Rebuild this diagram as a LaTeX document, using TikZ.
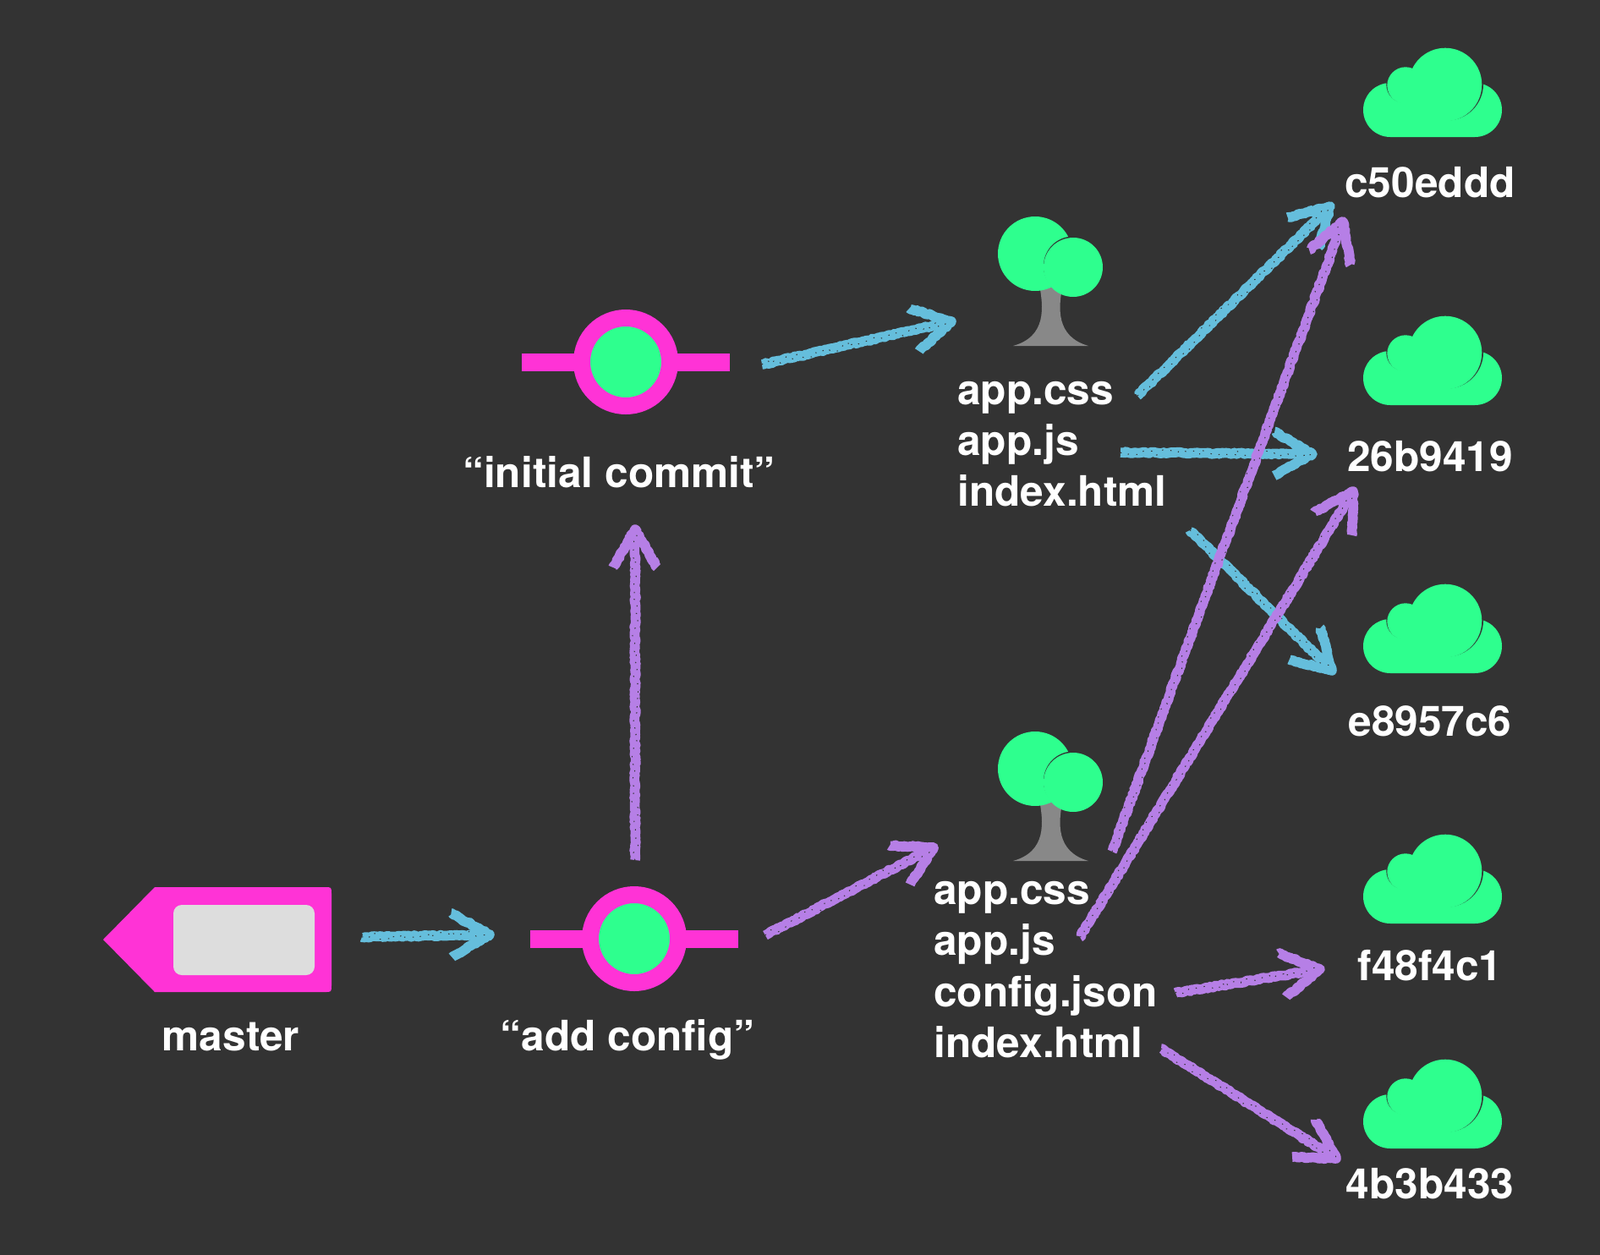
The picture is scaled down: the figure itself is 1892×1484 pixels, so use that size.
\documentclass[tikz,border=0pt]{standalone}
\usepackage{fontspec}
\setmainfont{TeX Gyre Heros}
\usetikzlibrary{calc}
\usetikzlibrary{decorations.pathmorphing}
\definecolor{slate}{HTML}{333333}
\definecolor{mint}{HTML}{2EFF8E}
\definecolor{hotpink}{HTML}{FF33D6}
\definecolor{chalkblue}{HTML}{65BEDC}
\definecolor{chalkpurple}{HTML}{B67FE6}
\definecolor{trunkgray}{HTML}{888888}
\definecolor{labelgray}{HTML}{DDDDDD}
\newcommand{\chalkarrow}[3]{%
    \draw[chalk line, #1] (#2) -- (#3);
    \draw[chalk line, #1] ($(#3)!26pt!30:(#2)$) -- (#3) -- ($(#3)!26pt!-30:(#2)$);
    \draw[chalk grain] (#2) -- (#3);
}

\begin{document}
\begin{tikzpicture}[
    x=0.5pt, y=-0.5pt,
    chalk line/.style={line width=5.8pt, line join=round,
        decorate, decoration={random steps, segment length=1.2pt, amplitude=0.5pt}},
    chalk grain/.style={slate, line width=0.5pt, dash pattern=on 0.7pt off 4.3pt,
        decorate, decoration={random steps, segment length=3pt, amplitude=2.2pt}},
    commit bar/.style={line width=10.5pt, hotpink},
    commit/.style={circle, draw=hotpink, fill=mint, line width=10pt, minimum size=52pt, inner sep=0pt},
    caption/.style={font=\bfseries\fontsize{24.8}{28}\selectfont, text=white, inner sep=0pt, anchor=base},
    file/.style={caption, anchor=base west},
    cloud/.pic={
        \fill[mint, rounded corners=16pt] (-77,-32) rectangle (87,32);
        \fill[slate] (-28,-30) circle (21.7);
        \fill[mint] (-27,-29) circle (21.7);
        \fill[slate] (21.8,-30.8) circle (43.3);
        \fill[mint] (20,-30) circle (43.3);
    },
    tree/.pic={
        \fill[trunkgray] (-12,-8) .. controls (-5,25) and (-3,58) .. (-42,69) -- (47,69)
            .. controls (9,58) and (10,25) .. (18,-8) -- cycle;
        \fill[mint] (-16,-40) circle (44);
        \fill[slate] (29,-25.5) circle (35);
        \fill[mint] (29,-24) circle (35);
    }
    ]

    \fill[slate] (0,0) rectangle (1892,1484);
    \useasboundingbox (0,0) rectangle (1892,1484);

    % define arrow ends
    \coordinate (tagout) at (428,1108);
    \coordinate (addin) at (579,1105);
    \coordinate (addup) at (751,1017);
    \coordinate (initin) at (751,626);
    \coordinate (initout) at (901,431);
    \coordinate (treeAin) at (1125,380);
    \coordinate (addout) at (905,1106);
    \coordinate (treeBin) at (1104,1002);
    \coordinate (cssAout) at (1345,468);
    \coordinate (blobAin) at (1573,244);
    \coordinate (jsAout) at (1325,535);
    \coordinate (blobBin) at (1552,537);
    \coordinate (htmlAout) at (1407,627);
    \coordinate (blobCin) at (1575,793);
    \coordinate (cssBout) at (1315,1007);
    \coordinate (blobAbis) at (1588,262);
    \coordinate (jsBout) at (1277,1108);
    \coordinate (blobBbis) at (1600,581);
    \coordinate (jsonBout) at (1390,1174);
    \coordinate (blobDin) at (1561,1146);
    \coordinate (htmlBout) at (1373,1240);
    \coordinate (blobEin) at (1580,1370);

    % branch tag
    \fill[hotpink] (122,1111) -- (183,1049) -- (384,1049) .. controls (392,1049) and (392,1049) .. (392,1057)
        -- (392,1165) .. controls (392,1173) and (392,1173) .. (384,1173) -- (183,1173) -- cycle;
    \fill[labelgray, rounded corners=5pt] (205,1070) rectangle (372,1153);
    \node[caption] (master) at (273,1242) {master};

    % commits
    \draw[commit bar] (617,428) -- (863,428);
    \node[commit] (initial) at (740,428) {};
    \node[caption] (initiallabel) at (732,576) {“initial commit”};
    \draw[commit bar] (627,1110) -- (873,1110);
    \node[commit] (addconfig) at (750,1110) {};
    \node[caption] (addlabel) at (742,1242) {“add config”};

    % trees
    \pic at (1240,340) {tree};
    \pic at (1240,949) {tree};
    \node[file] (cssA) at (1132,478) {app.css};
    \node[file] (jsA) at (1132,538) {app.js};
    \node[file] (htmlA) at (1132,598) {index.html};
    \node[file] (cssB) at (1104,1069) {app.css};
    \node[file] (jsB) at (1104,1129) {app.js};
    \node[file] (jsonB) at (1104,1190) {config.json};
    \node[file] (htmlB) at (1104,1250) {index.html};

    % blobs
    \pic at (1689,130) {cloud};
    \pic at (1689,447) {cloud};
    \pic at (1689,764) {cloud};
    \pic at (1689,1060) {cloud};
    \pic at (1689,1326) {cloud};
    \node[caption] (blobA) at (1691,233) {c50eddd};
    \node[caption] (blobB) at (1691,557) {26b9419};
    \node[caption] (blobC) at (1691,870) {e8957c6};
    \node[caption] (blobD) at (1691,1159) {f48f4c1};
    \node[caption] (blobE) at (1691,1417) {4b3b433};

    % arrows
    \chalkarrow{chalkblue}{tagout}{addin}
    \chalkarrow{chalkpurple}{addup}{initin}
    \chalkarrow{chalkblue}{initout}{treeAin}
    \chalkarrow{chalkpurple}{addout}{treeBin}
    \chalkarrow{chalkblue}{cssAout}{blobAin}
    \chalkarrow{chalkblue}{jsAout}{blobBin}
    \chalkarrow{chalkblue}{htmlAout}{blobCin}
    \chalkarrow{chalkpurple}{cssBout}{blobAbis}
    \chalkarrow{chalkpurple}{jsBout}{blobBbis}
    \chalkarrow{chalkpurple}{jsonBout}{blobDin}
    \chalkarrow{chalkpurple}{htmlBout}{blobEin}

\end{tikzpicture}
\end{document}
